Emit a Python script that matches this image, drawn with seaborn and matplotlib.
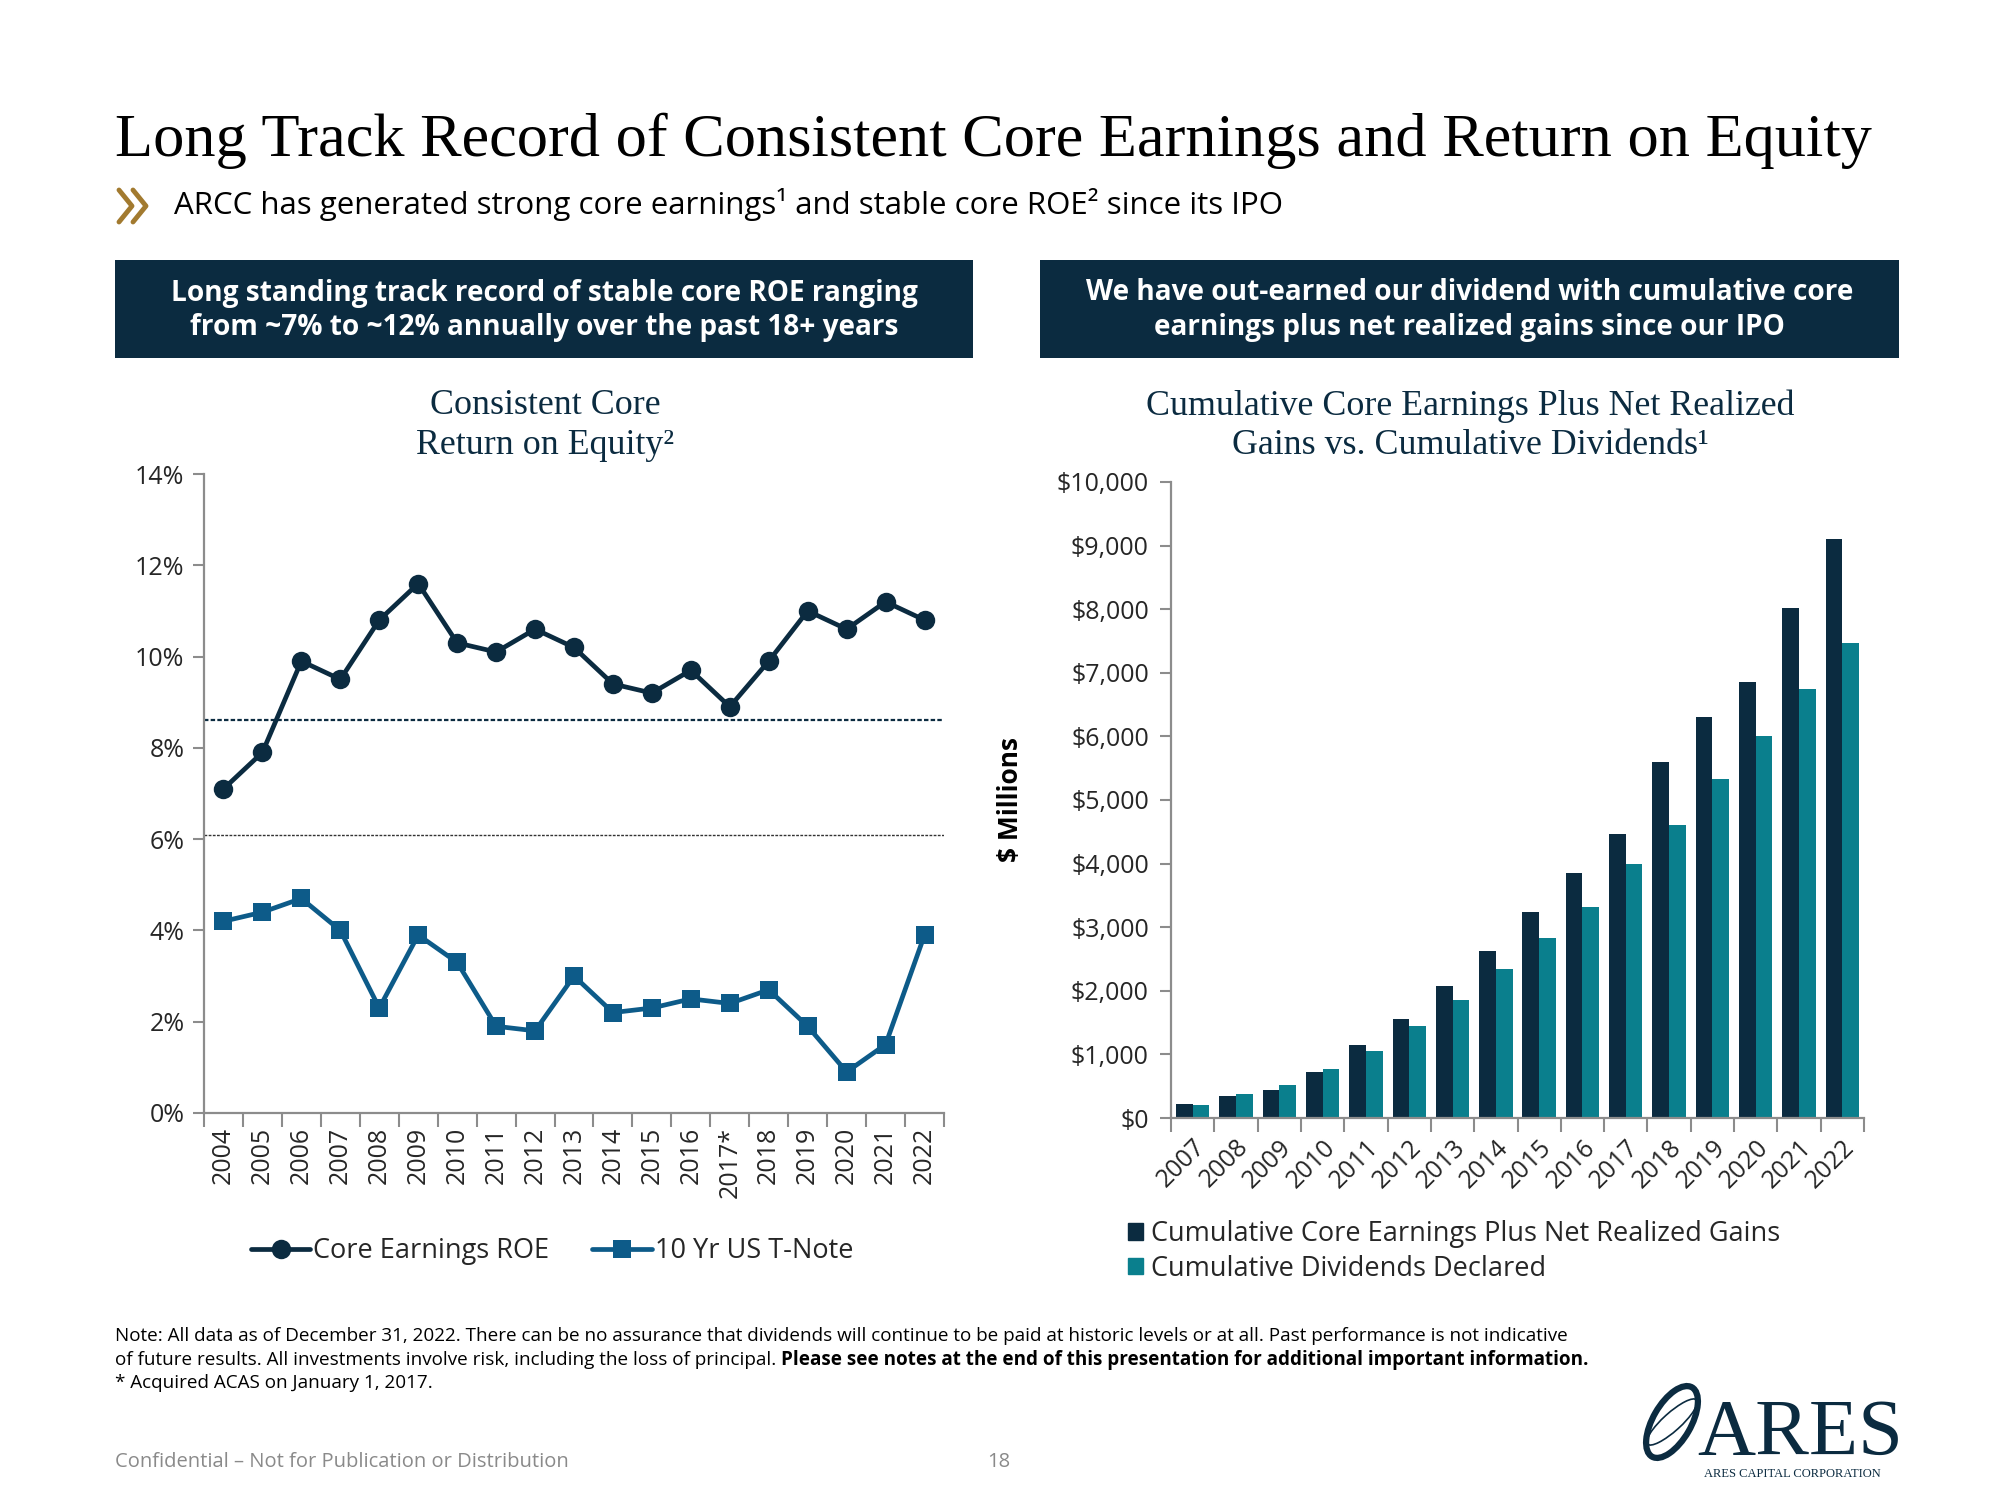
import numpy as np
import pandas as pd
import matplotlib.pyplot as plt
import matplotlib.patches as mpatches
from matplotlib.lines import Line2D
from matplotlib.transforms import IdentityTransform
import seaborn as sns

# left chart data (core ROE vs 10 yr treasury, %)
roe_years = ["2004", "2005", "2006", "2007", "2008", "2009", "2010", "2011", "2012", "2013",
             "2014", "2015", "2016", "2017*", "2018", "2019", "2020", "2021", "2022"]
core_roe = [7.1, 7.9, 9.9, 9.5, 10.8, 11.6, 10.3, 10.1, 10.6, 10.2,
            9.4, 9.2, 9.7, 8.9, 9.9, 11.0, 10.6, 11.2, 10.8]
tnote = [4.2, 4.4, 4.7, 4.0, 2.3, 3.9, 3.3, 1.9, 1.8, 3.0,
         2.2, 2.3, 2.5, 2.4, 2.7, 1.9, 0.9, 1.5, 3.9]
ref_lines = [8.6, 6.1]

# right chart data ($ millions, cumulative)
bar_years = ["2007", "2008", "2009", "2010", "2011", "2012", "2013", "2014",
             "2015", "2016", "2017", "2018", "2019", "2020", "2021", "2022"]
cum_core = [220, 350, 440, 720, 1140, 1550, 2070, 2620, 3240, 3850, 4460, 5600, 6300, 6860, 8020, 9100]
cum_div = [210, 370, 520, 770, 1050, 1440, 1860, 2350, 2830, 3310, 3990, 4610, 5330, 6010, 6740, 7470]
series_names = ["Cumulative Core Earnings Plus Net Realized Gains", "Cumulative Dividends Declared"]

navy = "#0b2b40"
teal = "#0a7f8d"
tblue = "#0d5b89"
gold = "#a27a2f"
axgray = "#8c8c8c"

sns.set_theme(style="white")
plt.rcParams['font.family'] = ['Open Sans', 'DejaVu Sans']
serif = ['Liberation Serif', 'DejaVu Serif']

fig = plt.figure(figsize=(20, 15), dpi=100)
H = 1500.0
W = 2000.0

def fy(y):
    return 1 - y / H

# ---- header
title = fig.text(115 / W, fy(156), "Long Track Record of Consistent Core Earnings and Return on Equity",
                 family=serif, fontsize=46, color="black", va="baseline", ha="left")
fig.canvas.draw()
tw = title.get_window_extent().width
title.set_fontsize(46 * 1758 / tw)

px = IdentityTransform()
for x0 in (119, 133):
    fig.add_artist(Line2D([x0, x0 + 13, x0], [H - 190, H - 206, H - 222], color=gold, lw=3.5,
                          transform=px, solid_capstyle='round'))
fig.text(174 / W, fy(214), "ARCC has generated strong core earnings¹ and stable core ROE² since its IPO",
         fontsize=22.5, color="black", va="baseline", ha="left")

# dark boxes with the headline text
boxes = [(115, 973, ["Long standing track record of stable core ROE ranging",
                     "from ~7% to ~12% annually over the past 18+ years"]),
         (1040, 1899, ["We have out-earned our dividend with cumulative core",
                       "earnings plus net realized gains since our IPO"])]
for x0, x1, lines in boxes:
    fig.add_artist(mpatches.Rectangle((x0 / W, fy(358)), (x1 - x0) / W, 98 / H,
                                      transform=fig.transFigure, color=navy, lw=0))
    for k, line in enumerate(lines):
        fig.text((x0 + x1) / 2 / W, fy(293 + 35 * k), line, color="white", fontsize=20.2,
                 fontweight="bold", ha="center", va="center")

# chart titles
for cx, lines in [(545, ["Consistent Core", "Return on Equity²"]),
                  (1470, ["Cumulative Core Earnings Plus Net Realized", "Gains vs. Cumulative Dividends¹"])]:
    for k, line in enumerate(lines):
        fig.text(cx / W, fy(406 + 40 * k), line, family=serif, fontsize=25.8, color=navy,
                 ha="center", va="center")

# ---- left chart
axL = fig.add_axes([204 / W, fy(1113), 740 / W, 639 / H])
pos = np.arange(len(roe_years))
for yv, lw, c in zip(ref_lines, [1.6, 1.0], [navy, "#333333"]):
    axL.axhline(yv, color=c, lw=lw, ls=(0, (2, 1)), zorder=1)
sns.lineplot(x=pos, y=core_roe, ax=axL, color=navy, lw=3.4, marker='o', markersize=14,
             markeredgewidth=0, label="Core Earnings ROE", zorder=3)
sns.lineplot(x=pos, y=tnote, ax=axL, color=tblue, lw=3.4, marker='s', markersize=12.5,
             markeredgewidth=0, label="10 Yr US T-Note", zorder=3)
axL.set_xlim(-0.5, len(roe_years) - 0.5)
axL.set_ylim(0, 14)
axL.set_yticks(np.arange(0, 15, 2))
axL.set_yticklabels([f"{v}%" for v in range(0, 15, 2)], fontsize=18)
axL.set_xticks(pos)
axL.set_xticklabels(roe_years, rotation=90, fontsize=18)
axL.set_xticks(np.arange(-0.5, len(roe_years)), minor=True)
axL.tick_params(axis='x', which='major', length=0, pad=10)
axL.tick_params(axis='x', which='minor', length=10, width=1.5, color=axgray, direction='out', bottom=True)
axL.tick_params(axis='y', which='major', length=8, width=1.5, color=axgray, left=True, pad=6)
for s in ['top', 'right']:
    axL.spines[s].set_visible(False)
for s in ['left', 'bottom']:
    axL.spines[s].set_color(axgray)
    axL.spines[s].set_linewidth(1.6)
axL.set_xlabel("")
axL.legend(loc="center", bbox_to_anchor=(552 / W, fy(1251)), bbox_transform=fig.transFigure,
           ncol=2, frameon=False, fontsize=19.5, handlelength=2.2, columnspacing=1.6,
           handletextpad=0.1)

# ---- right chart
df = pd.DataFrame({
    "Year": bar_years * 2,
    "Value": cum_core + cum_div,
    "Series": [series_names[0]] * len(bar_years) + [series_names[1]] * len(bar_years),
})
axR = fig.add_axes([1171 / W, fy(1118), 693 / W, 636 / H])
sns.barplot(data=df, x="Year", y="Value", hue="Series", palette=[navy, teal], width=0.77,
            gap=0, saturation=1, linewidth=0, ax=axR, legend=False)
axR.set_xlim(-0.5, len(bar_years) - 0.5)
axR.set_ylim(0, 10000)
axR.set_yticks(np.arange(0, 10001, 1000))
axR.set_yticklabels([f"${v:,}" for v in range(0, 10001, 1000)], fontsize=18)
axR.set_xticks(np.arange(len(bar_years)))
axR.set_xticklabels(bar_years, rotation=45, ha="right", rotation_mode="anchor", fontsize=18)
axR.set_xticks(np.arange(-0.5, len(bar_years)), minor=True)
axR.tick_params(axis='x', which='major', length=0, pad=12)
axR.tick_params(axis='x', which='minor', length=10, width=1.5, color=axgray, direction='out', bottom=True)
axR.tick_params(axis='y', which='major', length=8, width=1.5, color=axgray, left=True, pad=8)
for s in ['top', 'right']:
    axR.spines[s].set_visible(False)
for s in ['left', 'bottom']:
    axR.spines[s].set_color(axgray)
    axR.spines[s].set_linewidth(1.6)
axR.set_xlabel("")
axR.set_ylabel("$ Millions", fontsize=19, fontweight="bold", color="black")
axR.yaxis.set_label_coords((1024 - 1171) / 693, 0.5)
handles = [mpatches.Patch(color=navy, label=series_names[0]),
           mpatches.Patch(color=teal, label=series_names[1])]
fig.legend(handles=handles, loc="upper left", bbox_to_anchor=(1128 / W, fy(1220)),
           frameon=False, fontsize=19.5, handlelength=0.55, handleheight=0.55,
           handletextpad=0.3, labelspacing=0.25, borderpad=0, borderaxespad=0)

# ---- footnotes
fs_note = 13.6
fig.text(115 / W, fy(1336), "Note: All data as of December 31, 2022. There can be no assurance that dividends "
         "will continue to be paid at historic levels or at all. Past performance is not indicative",
         fontsize=fs_note, va="center", color="black")
t2 = fig.text(115 / W, fy(1360), "of future results. All investments involve risk, including the loss of principal. ",
              fontsize=fs_note, va="center", color="black")
fig.canvas.draw()
x_end = t2.get_window_extent().x1
fig.text(x_end / W, fy(1360), "Please see notes at the end of this presentation for additional important information.",
         fontsize=fs_note, fontweight="bold", va="center", color="black")
fig.text(115 / W, fy(1383), "* Acquired ACAS on January 1, 2017.", fontsize=fs_note, va="center", color="black")
fig.text(115 / W, fy(1462), "Confidential \u2013 Not for Publication or Distribution", fontsize=14.5,
         va="center", color="#8a8a8a")
fig.text(999 / W, fy(1462), "18", fontsize=14.5, va="center", ha="center", color="#8a8a8a")

# ---- logo
fig.add_artist(mpatches.Ellipse((1672, H - 1422), 80, 38, angle=60, fill=False, ec=navy, lw=4.5,
                                transform=px))
fig.add_artist(mpatches.Ellipse((1672, H - 1422), 66, 18, angle=42, fill=False, ec=navy, lw=1.2,
                                transform=px))
fig.text(1800 / W, fy(1455), "ARES", family=serif, fontsize=58, color=navy, ha="center", va="baseline")
fig.text(1792 / W, fy(1474), "ARES CAPITAL CORPORATION", family=serif, fontsize=9, color=navy,
         ha="center", va="center")

fig.savefig("out.png", dpi=100)
